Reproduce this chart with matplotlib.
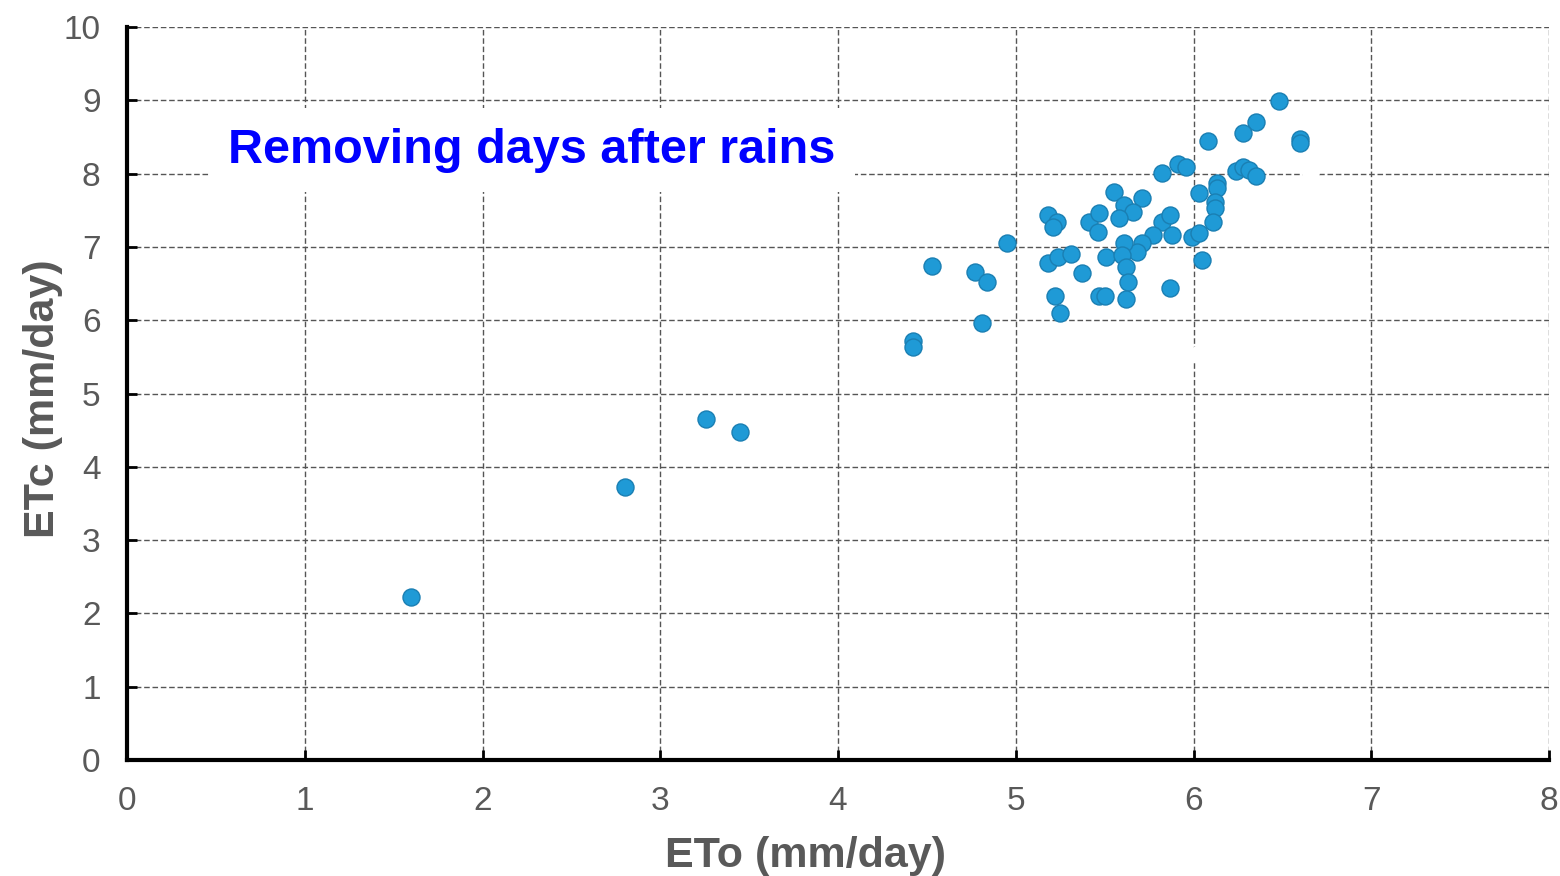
import matplotlib.pyplot as plt

# --- Datos ---
eto = [1.60, 2.80, 3.26, 3.45, 4.42, 4.42, 4.53, 4.77, 4.84, 4.81, 4.95,
       6.48, 6.35, 6.28, 6.08, 6.60, 6.60, 5.82, 5.91, 5.96, 6.24, 6.28,
       6.31, 6.35, 5.55, 5.71, 5.61, 5.66, 5.58, 6.03, 6.13, 6.13, 6.12,
       6.12, 6.11, 5.18, 5.23, 5.21, 5.41, 5.47, 5.46, 5.82, 5.87, 5.77,
       5.71, 5.68, 5.61, 5.88, 5.99, 6.03, 5.18, 5.24, 5.31, 5.51, 5.60,
       5.62, 5.63, 5.37, 6.05, 5.22, 5.25, 5.47, 5.50, 5.62, 5.87]
etc = [2.22, 3.72, 4.65, 4.47, 5.72, 5.63, 6.74, 6.66, 6.52, 5.96, 7.05,
       8.99, 8.70, 8.55, 8.44, 8.47, 8.42, 8.01, 8.13, 8.09, 8.04, 8.09,
       8.05, 7.97, 7.75, 7.67, 7.57, 7.48, 7.39, 7.74, 7.87, 7.80, 7.61,
       7.53, 7.34, 7.44, 7.34, 7.27, 7.34, 7.46, 7.20, 7.34, 7.44, 7.16,
       7.05, 6.93, 7.05, 7.16, 7.14, 7.19, 6.78, 6.86, 6.91, 6.86, 6.89,
       6.73, 6.52, 6.64, 6.82, 6.33, 6.10, 6.33, 6.33, 6.29, 6.44]

# Puntos eliminados (días tras lluvia), tapados en blanco
eto_removed = [7.20, 6.66, 6.74, 6.40, 6.42, 6.49, 5.64, 6.03]
etc_removed = [8.68, 8.02, 7.78, 7.57, 7.14, 6.68, 5.62, 5.53]

x_ticks = [0, 1, 2, 3, 4, 5, 6, 7, 8]
y_ticks = [0, 1, 2, 3, 4, 5, 6, 7, 8, 9, 10]

plt.rcParams['font.family'] = ['Liberation Sans', 'DejaVu Sans']

fig = plt.figure(figsize=(15.6, 8.76), dpi=100)
ax = fig.add_axes([0.0814, 0.1324, 0.9116, 0.8366])

ax.set_xlim(0, 8)
ax.set_ylim(0, 10)
ax.set_xticks(x_ticks)
ax.set_yticks(y_ticks)

ax.grid(True, linestyle=(0, (4, 2)), color='#555555', linewidth=1.0, zorder=0)
ax.set_axisbelow(True)

ax.scatter(eto_removed, etc_removed, s=170, color='white', edgecolors='none', zorder=2)
ax.scatter(eto, etc, s=150, color='#1f9ad6', edgecolors='#1a7fb3', linewidth=1.0, zorder=3)

for side in ['top', 'right']:
    ax.spines[side].set_visible(False)
for side in ['left', 'bottom']:
    ax.spines[side].set_linewidth(3)
    ax.spines[side].set_color('black')

ax.tick_params(direction='in', length=7, width=2, colors='black',
               labelcolor='#595959', labelsize=24, pad=19)

ax.set_xlabel('ETo (mm/day)', fontsize=31, fontweight='bold', color='#595959')
ax.xaxis.set_label_coords(0.477, -0.104)
ax.set_ylabel('ETc (mm/day)', fontsize=31, fontweight='bold', color='#595959')
ax.yaxis.set_label_coords(-0.045, 0.493)

ax.text(0.57, 8.32, 'Removing days after rains', fontsize=35, fontweight='bold',
        color='#0000ff', va='center', ha='left', zorder=4,
        bbox=dict(facecolor='white', edgecolor='none', pad=14))

fig.savefig('out.png', dpi=100)
